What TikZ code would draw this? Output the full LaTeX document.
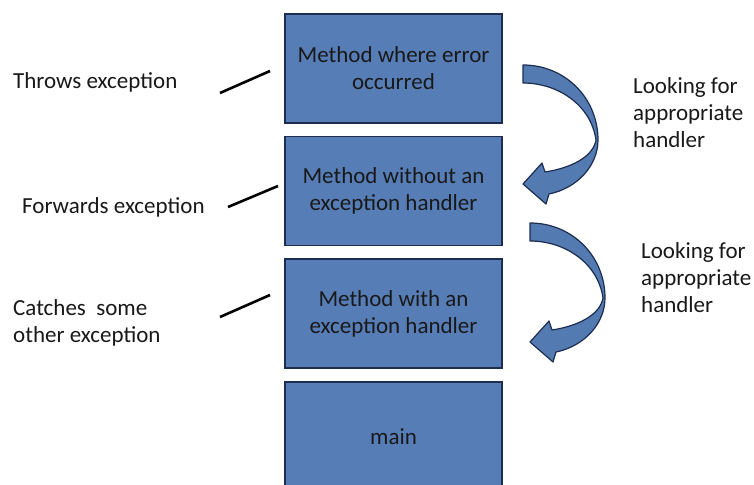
\documentclass[tikz,border=0pt]{standalone}
\usepackage{fontspec}
\setmainfont{Carlito}
\definecolor{boxblue}{RGB}{86,125,182}
\definecolor{boxedge}{RGB}{28,45,80}
\definecolor{arrblue}{RGB}{84,122,178}
\begin{document}
\begin{tikzpicture}[x=1pt,y=-1pt,
  every node/.style={font=\fontsize{23}{27}\selectfont},
  stackbox/.style={draw=boxedge,line width=1.6pt,fill=boxblue,minimum width=217pt,minimum height=109pt,inner sep=0pt,align=center,text=black!90},
  lbl/.style={anchor=base west,inner sep=0pt,align=left,text=black!90},
  tick/.style={line width=2.6pt,black},
  curvearrow/.pic={
    \path[fill=arrblue,draw=boxedge,line width=1.2pt,line join=round]
      (0,0) .. controls (42,0) and (75,33) .. (75,75)
      .. controls (75,100) and (55,123) .. (26,129)
      -- (23,139) -- (0,119) -- (19,98) -- (22,107)
      .. controls (48,103) and (70,92) .. (73,75)
      .. controls (68,40) and (35,18) .. (0,18) -- cycle;
  }]
\useasboundingbox (0,0) rectangle (754,484);
\clip (0,0) rectangle (754,484);
\fill[white] (0,0) rectangle (754,484);

\node[stackbox] (b1) at (393.5,68.5) {Method where error\\occurred};
\node[stackbox] (b2) at (393.5,191) {Method without an\\exception handler};
\node[stackbox] (b3) at (393.5,313.5) {Method with an\\exception handler};
\node[stackbox] (b4) at (393.5,436.5) {main};

\node[lbl] (t1) at (13,89) {Throws exception};
\node[lbl] (t2) at (22,213) {Forwards exception};
\node[lbl] (t3) at (13,342) {Catches\ \ some\\other exception};

\node[lbl] (l1) at (633,147) {Looking for\\appropriate\\handler};
\node[lbl] (l2) at (641,312) {Looking for\\appropriate\\handler};

\coordinate (a1) at (220,93);  \coordinate (e1) at (270,71);
\coordinate (a2) at (228,207); \coordinate (e2) at (278,186);
\coordinate (a3) at (220,317); \coordinate (e3) at (270,295);
\draw[tick] (a1) -- (e1);
\draw[tick] (a2) -- (e2);
\draw[tick] (a3) -- (e3);

\pic (arr1) at (523,65) {curvearrow};
\pic (arr2) at (530,223) {curvearrow};
\end{tikzpicture}
\end{document}
